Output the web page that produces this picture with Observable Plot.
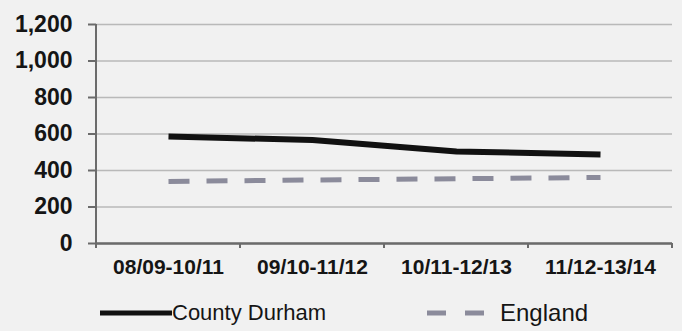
<!DOCTYPE html>
<html>
<head>
<meta charset="utf-8">
<script src="https://cdn.jsdelivr.net/npm/d3@7"></script>
<script src="https://cdn.jsdelivr.net/npm/@observablehq/plot@0.6"></script>
<style>
  html, body { margin: 0; padding: 0; background: #f1f1f1; }
  #chart { width: 682px; height: 331px; position: relative; font-family: "Liberation Sans", Arial, sans-serif; }
  #legend { position: absolute; left: 0; top: 295px; width: 682px; height: 36px; }
  .item { position: absolute; top: 0; height: 36px; display: flex; align-items: center; color: #151515; font-size: 22px; }
  .item svg { display: block; }
</style>
</head>
<body>
<div id="chart"></div>
<script>
// Rolling three-year periods
const periods = ["08/09-10/11", "09/10-11/12", "10/11-12/13", "11/12-13/14"];
// Rates per period
const durham = [586, 567, 504, 488];
const england = [340, 348, 355, 362];
const yTicks = [0, 200, 400, 600, 800, 1000, 1200];

const seriesNames = ["County Durham", "England"];

const rows = [
  ...periods.map((p, i) => ({period: p, value: durham[i], series: seriesNames[0]})),
  ...periods.map((p, i) => ({period: p, value: england[i], series: seriesNames[1]}))
];

const axisColor = "#6b6b6b";

// Category boundary ticks and the vertical axis line
function frameMarks(index, scales, values, dimensions) {
  const x = scales.x;
  const step = x(periods[1]) - x(periods[0]);
  const bounds = periods.map(p => x(p) - step / 2).concat([x(periods[periods.length - 1]) + step / 2]);
  const y0 = dimensions.height - dimensions.marginBottom;
  const g = d3.create("svg:g").attr("stroke", axisColor).attr("stroke-width", 2);
  g.selectAll("line.tk").data(bounds).join("line")
    .attr("x1", d => d).attr("x2", d => d)
    .attr("y1", y0).attr("y2", y0 + 5);
  g.append("line")
    .attr("x1", dimensions.marginLeft).attr("x2", dimensions.marginLeft)
    .attr("y1", dimensions.marginTop).attr("y2", y0 + 5);
  return g.node();
}

const plot = Plot.plot({
  width: 682,
  height: 295,
  marginLeft: 96,
  marginRight: 10,
  marginTop: 24,
  marginBottom: 52,
  style: {background: "transparent", fontFamily: "Liberation Sans, Arial, sans-serif", color: "#151515"},
  x: {type: "point", domain: periods, padding: 0.5, label: null},
  y: {domain: [0, 1200], ticks: yTicks, label: null, tickFormat: d3.format(",")},
  marks: [
    Plot.gridY(yTicks, {stroke: "#b9b9b9", strokeOpacity: 1, strokeWidth: 1.3}),
    Plot.axisY(yTicks, {tickSize: 8, tickPadding: 16, fontSize: 23, fontWeight: "bold", stroke: axisColor, strokeWidth: 2, tickFormat: d3.format(","), label: null}),
    Plot.axisX({tickSize: 0, tickPadding: 16, fontSize: 21, fontWeight: "bold", label: null}),
    Plot.ruleY([0], {stroke: axisColor, strokeWidth: 2.5}),
    frameMarks,
    Plot.line(rows.filter(d => d.series === seriesNames[1]), {
      x: "period", y: "value", stroke: "#8b8b9b", strokeWidth: 5,
      strokeDasharray: "21,17", strokeLinecap: "butt"
    }),
    Plot.line(rows.filter(d => d.series === seriesNames[0]), {
      x: "period", y: "value", stroke: "#111111", strokeWidth: 6, strokeLinecap: "butt"
    })
  ]
});

const chart = document.getElementById("chart");
chart.appendChild(plot);

// Legend below the plot
const legend = document.createElement("div");
legend.id = "legend";
legend.innerHTML = `
  <div class="item" style="left:100px">
    <svg width="72" height="10"><line x1="0" x2="72" y1="5" y2="5" stroke="#111111" stroke-width="5"/></svg>
    <span>${seriesNames[0]}</span>
  </div>
  <div class="item" style="left:427px">
    <svg width="73" height="10"><line x1="0" x2="62" y1="5" y2="5" stroke="#8b8b9b" stroke-width="5" stroke-dasharray="19,19"/></svg>
    <span style="font-size:24px">${seriesNames[1]}</span>
  </div>`;
chart.appendChild(legend);
</script>
</body>
</html>
